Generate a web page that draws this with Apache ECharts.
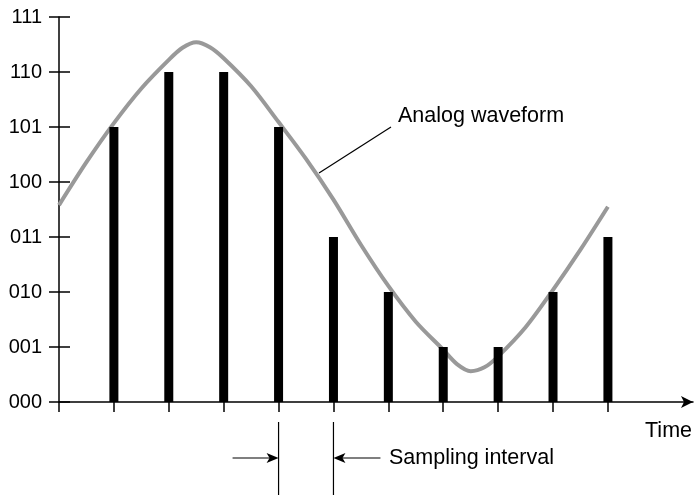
<!DOCTYPE html>
<html>
<head>
<meta charset="utf-8">
<script src="https://cdn.jsdelivr.net/npm/echarts@6/dist/echarts.min.js"></script>
<style>
  html, body { margin: 0; padding: 0; background: #fff; }
  #chart { width: 699px; height: 495px; }
</style>
</head>
<body>
<div id="chart"></div>
<script>
// quantisation levels (3-bit codes), bottom to top
var levelLabels = ['000', '001', '010', '011', '100', '101', '110', '111'];
// sample instants and the code taken at each
var sampleTimes = [1, 2, 3, 4, 5, 6, 7, 8, 9, 10];
var sampleCodes = [5, 6, 6, 5, 3, 2, 1, 1, 2, 3];
// analog waveform
var waveTimes = [0, 0.5, 1, 1.5, 2, 2.25, 2.5, 2.75, 3, 3.5, 4, 4.5, 5, 5.5, 6, 6.5, 7, 7.25, 7.5, 7.75, 8, 8.5, 9, 9.5, 10];
var waveValues = [3.58, 4.36, 5.07, 5.70, 6.22, 6.44, 6.54, 6.45, 6.25, 5.74, 5.09, 4.42, 3.68, 2.86, 2.11, 1.46, 0.95, 0.69, 0.56, 0.63, 0.83, 1.36, 2.04, 2.77, 3.55];
var tickTimes = [0, 1, 2, 3, 4, 5, 6, 7, 8, 9, 10];

var FONT = '"Liberation Sans", Arial, Helvetica, sans-serif';

var chart = echarts.init(document.getElementById('chart'));

var samples = sampleTimes.map(function (t, i) { return [t, sampleCodes[i]]; });
var wave = waveTimes.map(function (t, i) { return [t, waveValues[i]]; });

chart.setOption({
    animation: false,
    backgroundColor: '#fff',
    grid: { left: 59, top: 17, right: 6, bottom: 93 },
    xAxis: {
        type: 'value',
        min: 0,
        max: 11.55,
        axisLine: { show: true, lineStyle: { color: '#000', width: 1.5 },
                    symbol: ['none', 'arrow'], symbolSize: [9, 12] },
        axisTick: { show: true, length: 10, lineStyle: { color: '#000', width: 1.5 },
                    customValues: tickTimes },
        axisLabel: { show: false },
        splitLine: { show: false }
    },
    yAxis: [{
        type: 'value',
        min: 0,
        max: 7,
        interval: 1,
        axisLine: { show: true, lineStyle: { color: '#000', width: 1.5 } },
        axisTick: { show: true, length: 10, lineStyle: { color: '#000', width: 1.5 } },
        axisLabel: {
            margin: 17, color: '#000', fontSize: 20, fontFamily: FONT,
            formatter: function (v) { return levelLabels[v]; }
        },
        splitLine: { show: false }
    }, {
        // inside half of the crossing ticks
        type: 'value',
        min: 0,
        max: 7,
        interval: 1,
        position: 'left',
        axisLine: { show: false },
        axisTick: { show: true, inside: true, length: 11, lineStyle: { color: '#000', width: 1.5 } },
        axisLabel: { show: false },
        splitLine: { show: false }
    }],
    series: [{
        type: 'line',
        data: wave,
        smooth: 0.3,
        showSymbol: false,
        lineStyle: { color: '#999', width: 4 },
        z: 1
    }, {
        type: 'bar',
        data: samples,
        barWidth: 9,
        itemStyle: { color: '#000' },
        z: 2
    }]
});

// annotations placed from the axis scale
var p4 = chart.convertToPixel({ xAxisIndex: 0, yAxisIndex: 0 }, [4, 0]);
var p5 = chart.convertToPixel({ xAxisIndex: 0, yAxisIndex: 0 }, [5, 0]);
var ay = 458;
var textFont = '21.5px ' + FONT;
var lineStyle = { stroke: '#000', lineWidth: 1.2 };

chart.setOption({
    graphic: [
        { type: 'line', shape: { x1: p4[0], y1: 422, x2: p4[0], y2: 495 }, style: lineStyle },
        { type: 'line', shape: { x1: p5[0], y1: 422, x2: p5[0], y2: 495 }, style: lineStyle },
        { type: 'line', shape: { x1: p4[0] - 46, y1: ay, x2: p4[0] - 4, y2: ay }, style: lineStyle },
        { type: 'polygon', shape: { points: [[p4[0], ay], [p4[0] - 12, ay - 5], [p4[0] - 9, ay], [p4[0] - 12, ay + 5]] },
          style: { fill: '#000' } },
        { type: 'line', shape: { x1: p5[0] + 4, y1: ay, x2: p5[0] + 47, y2: ay }, style: lineStyle },
        { type: 'polygon', shape: { points: [[p5[0], ay], [p5[0] + 12, ay - 5], [p5[0] + 9, ay], [p5[0] + 12, ay + 5]] },
          style: { fill: '#000' } },
        { type: 'text', style: { text: 'Sampling interval', x: 389, y: ay, font: textFont,
          fill: '#000', textAlign: 'left', textVerticalAlign: 'middle', align: 'left', verticalAlign: 'middle' } },
        { type: 'text', style: { text: 'Time', x: 692, y: 431, font: textFont,
          fill: '#000', textAlign: 'right', textVerticalAlign: 'middle', align: 'right', verticalAlign: 'middle' } },
        { type: 'line', shape: { x1: 319, y1: 173, x2: 391, y2: 127 }, style: lineStyle },
        { type: 'text', style: { text: 'Analog waveform', x: 398, y: 116, font: textFont,
          fill: '#000', textAlign: 'left', textVerticalAlign: 'middle', align: 'left', verticalAlign: 'middle' } }
    ]
});
</script>
</body>
</html>
